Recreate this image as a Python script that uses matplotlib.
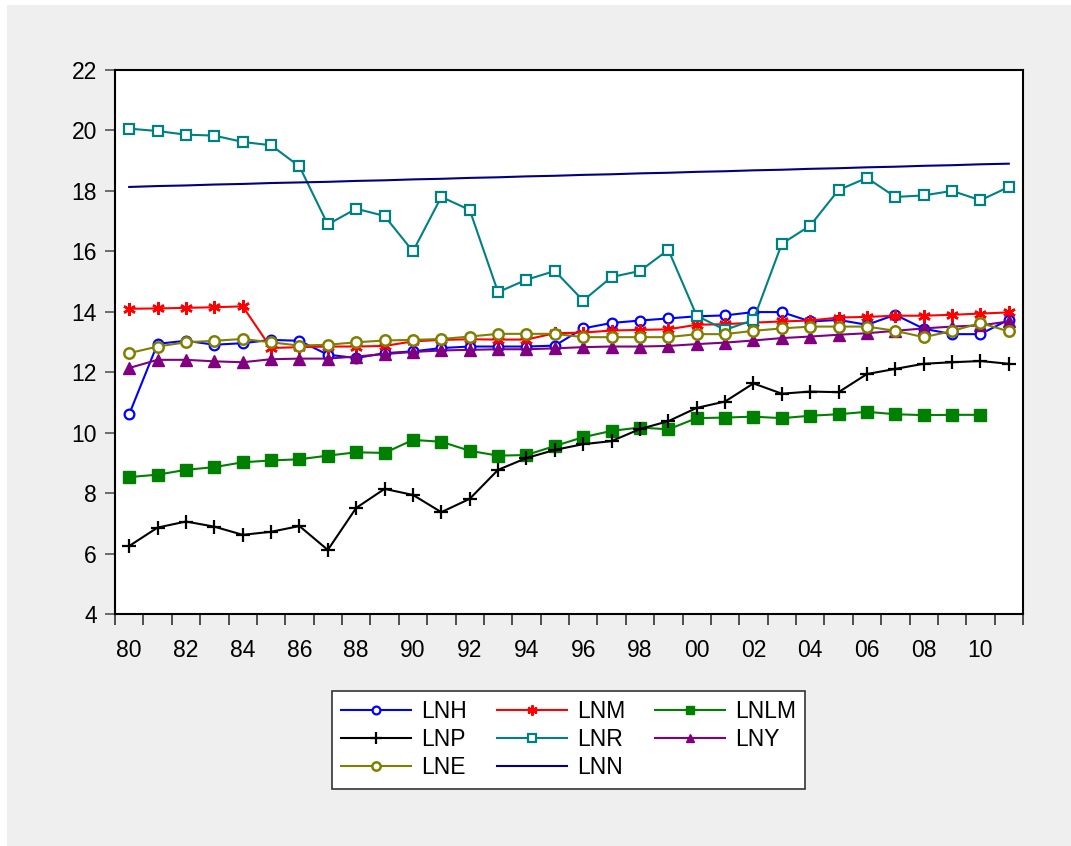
import matplotlib.pyplot as plt
import numpy as np
from matplotlib.patches import Rectangle

years = np.arange(1980, 2012)

lnh = [10.61, 12.94, 13.04, 12.91, 12.96, 13.07, 13.04, 12.58, 12.47, 12.63,
       12.69, 12.80, 12.85, 12.85, 12.85, 12.88, 13.45, 13.63, 13.71, 13.78,
       13.85, 13.88, 13.99, 13.99, 13.68, 13.73, 13.57, 13.90, 13.44, 13.26,
       13.26, 13.74]
lnm = [14.10, 14.11, 14.13, 14.15, 14.18, 12.80, 12.83, 12.85, 12.85, 12.87,
       13.02, 13.07, 13.09, 13.08, 13.08, 13.29, 13.31, 13.38, 13.40, 13.42,
       13.57, 13.59, 13.64, 13.68, 13.71, 13.81, 13.83, 13.87, 13.87, 13.90,
       13.94, 13.98]
lnlm = [8.53, 8.61, 8.77, 8.86, 9.02, 9.08, 9.12, 9.24, 9.35, 9.33,
        9.76, 9.70, 9.40, 9.24, 9.26, 9.56, 9.85, 10.06, 10.17, 10.11,
        10.48, 10.50, 10.53, 10.48, 10.56, 10.61, 10.69, 10.61, 10.58, 10.59,
        10.59, np.nan]
lnp = [6.25, 6.86, 7.06, 6.89, 6.62, 6.72, 6.91, 6.12, 7.51, 8.14,
       7.94, 7.37, 7.81, 8.77, 9.16, 9.43, 9.62, 9.72, 10.12, 10.38,
       10.82, 11.03, 11.63, 11.29, 11.36, 11.34, 11.94, 12.11, 12.28, 12.33,
       12.37, 12.28]
lnr = [20.06, 19.98, 19.86, 19.83, 19.62, 19.51, 18.81, 16.89, 17.41, 17.17,
       16.00, 17.80, 17.37, 14.65, 15.06, 15.35, 14.37, 15.15, 15.35, 16.05,
       13.87, 13.40, 13.73, 16.25, 16.85, 18.03, 18.43, 17.80, 17.85, 18.00,
       17.69, 18.13]
lny = [12.14, 12.41, 12.41, 12.36, 12.33, 12.43, 12.45, 12.45, 12.52, 12.60,
       12.67, 12.72, 12.74, 12.76, 12.76, 12.79, 12.83, 12.85, 12.85, 12.87,
       12.93, 12.98, 13.05, 13.13, 13.18, 13.24, 13.29, 13.37, 13.45, 13.51,
       13.55, 13.68]
lne = [12.63, 12.85, 12.99, 13.04, 13.10, 12.99, 12.88, 12.91, 12.99, 13.05,
       13.07, 13.10, 13.18, 13.27, 13.27, 13.27, 13.16, 13.16, 13.16, 13.16,
       13.26, 13.26, 13.37, 13.45, 13.51, 13.51, 13.51, 13.37, 13.16, 13.36,
       13.63, 13.35]
lnn = [18.13, 18.16, 18.18, 18.21, 18.23, 18.26, 18.28, 18.30, 18.33, 18.35,
       18.38, 18.40, 18.43, 18.45, 18.48, 18.50, 18.53, 18.55, 18.58, 18.60,
       18.63, 18.65, 18.68, 18.70, 18.73, 18.75, 18.78, 18.80, 18.83, 18.85,
       18.88, 18.90]

plt.rcParams['font.family'] = ['Liberation Sans', 'DejaVu Sans']

fig = plt.figure(figsize=(10.71, 8.46), dpi=100, facecolor='white')
# gray panel behind everything, leaving a thin white strip top/left
fig.patches.append(Rectangle((7 / 1071, 0), 1, 1 - 5 / 846, transform=fig.transFigure,
                             facecolor='#efefef', edgecolor='none', zorder=-10))

ax = fig.add_axes([115 / 1071, (846 - 614) / 846, 908 / 1071, 544 / 846])
ax.set_facecolor('white')

lw = 1.5
series = [
    ('LNH', lnh, dict(color='#0000ff', marker='o', ms=7, mfc='white', mew=1.6)),
    ('LNM', lnm, dict(color='#ff0000', marker=(6, 2, 0), ms=9, mew=1.8)),
    ('LNLM', lnlm, dict(color='#008000', marker='s', ms=8)),
    ('LNP', lnp, dict(color='black', marker='+', ms=10, mew=1.6)),
    ('LNR', lnr, dict(color='#008080', marker='s', ms=7.5, mfc='white', mew=1.6)),
    ('LNY', lny, dict(color='#800080', marker='^', ms=8)),
    ('LNE', lne, dict(color='#808000', marker='o', ms=7.5, mfc='white', mew=1.8)),
    ('LNN', lnn, dict(color='#000080')),
]

handles = {}
for name, vals, style in series:
    line, = ax.plot(years, vals, lw=lw, label=name, **style)
    handles[name] = line

fs = 16.5
ax.set_xlim(1979.5, 2011.5)
ax.set_ylim(4, 22)
ax.set_yticks(np.arange(4, 23, 2))
ax.set_yticklabels([str(v) for v in range(4, 23, 2)], fontsize=fs)

# ticks at year boundaries, labels centred on even years
ax.set_xticks(np.arange(1979.5, 2012, 1))
ax.set_xticklabels([])
ax.set_xticks(years[::2], minor=True)
ax.set_xticklabels(['%02d' % (y % 100) for y in years[::2]], minor=True, fontsize=fs)
ax.tick_params(axis='x', which='major', direction='out', length=8, width=1.2, color='#333333')
ax.tick_params(axis='x', which='minor', length=0, pad=18)
ax.tick_params(axis='y', direction='out', length=7, width=1.2, color='#555555', pad=6)
for s in ax.spines.values():
    s.set_linewidth(1.5)
    s.set_color('black')

order = ['LNH', 'LNP', 'LNE', 'LNM', 'LNR', 'LNN', 'LNLM', 'LNY']
leg = fig.legend([handles[n] for n in order], order, ncol=3, loc='upper center',
                 bbox_to_anchor=(0.531, 0.183), fontsize=fs, frameon=True,
                 fancybox=False, shadow=False, framealpha=1, edgecolor='#333333',
                 handlelength=3.05, handletextpad=0.45, columnspacing=1.3,
                 labelspacing=0.22, borderpad=0.4, borderaxespad=0, markerscale=0.8)
leg.get_frame().set_linewidth(1.2)

fig.savefig('out.png', dpi=100, facecolor=fig.get_facecolor())
